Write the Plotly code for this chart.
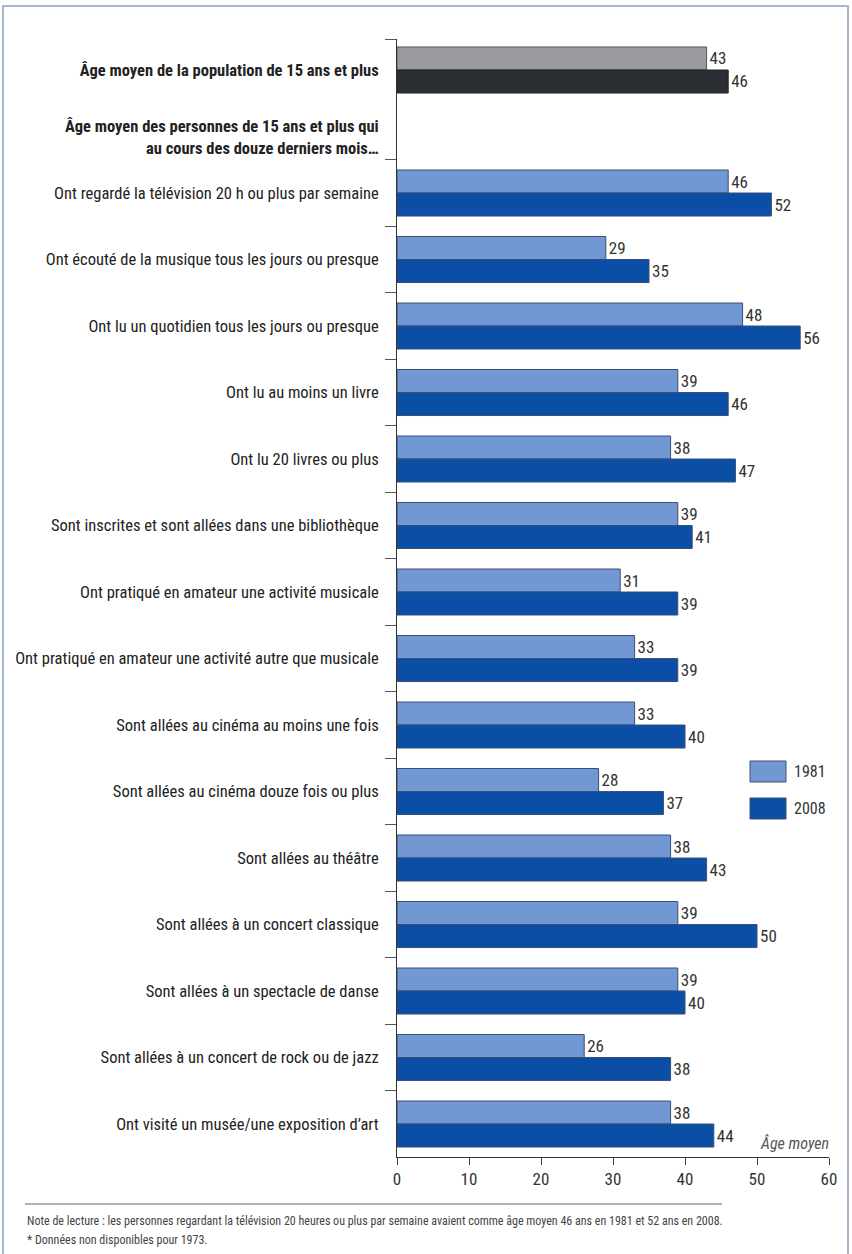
import plotly.graph_objects as go

# --- data -------------------------------------------------------------
categories = [
    "<b>Âge moyen de la population de 15 ans et plus</b>",
    "<b>Âge moyen des personnes de 15 ans et plus qui</b><br><b>au cours des douze derniers mois…</b>",
    "Ont regardé la télévision 20 h ou plus par semaine",
    "Ont écouté de la musique tous les jours ou presque",
    "Ont lu un quotidien tous les jours ou presque",
    "Ont lu au moins un livre",
    "Ont lu 20 livres ou plus",
    "Sont inscrites et sont allées dans une bibliothèque",
    "Ont pratiqué en amateur une activité musicale",
    "Ont pratiqué en amateur une activité autre que musicale",
    "Sont allées au cinéma au moins une fois",
    "Sont allées au cinéma douze fois ou plus",
    "Sont allées au théâtre",
    "Sont allées à un concert classique",
    "Sont allées à un spectacle de danse",
    "Sont allées à un concert de rock ou de jazz",
    "Ont visité un musée/une exposition d’art",
]
years = ["1981", "2008"]
values_1981 = [43, None, 46, 29, 48, 39, 38, 39, 31, 33, 33, 28, 38, 39, 39, 26, 38]
values_2008 = [46, None, 52, 35, 56, 46, 47, 41, 39, 39, 40, 37, 43, 50, 40, 38, 44]
x_ticks = [0, 10, 20, 30, 40, 50, 60]
axis_title = "Âge moyen"
note_lines = [
    "Note de lecture : les personnes regardant la télévision 20 heures ou plus par semaine "
    "avaient comme âge moyen 46 ans en 1981 et 52 ans en 2008.",
    "* Données non disponibles pour 1973.",
]

# --- layout helpers ---------------------------------------------------
# row positions on the value axis (first two rows are slightly tighter)
row_pos = [-1.85, -0.84] + list(range(len(categories) - 2))
y_top, y_bot = -2.316, 14.496
bar_w = 0.346

FONT = "Roboto Condensed, Roboto, Lato, sans-serif"
LIGHT, DARK = "#7198d2", "#0b4ea6"
GREY, BLACKISH = "#9b9b9f", "#2b2e35"
OUTLINE = "#3a4f78"

colors_1981 = [GREY] + [LIGHT] * (len(categories) - 1)
colors_2008 = [BLACKISH] + [DARK] * (len(categories) - 1)
line_1981 = ["#555555"] + [OUTLINE] * (len(categories) - 1)
line_2008 = ["#222222"] + [OUTLINE] * (len(categories) - 1)


def labels(vals):
    return ["" if v is None else str(v) for v in vals]


fig = go.Figure()
fig.add_trace(go.Bar(
    y=row_pos, x=values_1981, orientation="h", name=years[0],
    width=bar_w, offset=-bar_w,
    marker=dict(color=colors_1981, line=dict(color=line_1981, width=1)),
    text=labels(values_1981), textposition="outside", constraintext="none",
    textfont=dict(family=FONT, size=17, color="#333333"),
    cliponaxis=False, showlegend=False,
))
fig.add_trace(go.Bar(
    y=row_pos, x=values_2008, orientation="h", name=years[1],
    width=bar_w, offset=0,
    marker=dict(color=colors_2008, line=dict(color=line_2008, width=1)),
    text=labels(values_2008), textposition="outside", constraintext="none",
    textfont=dict(family=FONT, size=17, color="#333333"),
    cliponaxis=False, showlegend=False,
))

# group separators on the category axis
sep_ticks = [y_top] + [i + 0.5 for i in range(-1, len(categories) - 2)]

fig.update_yaxes(
    range=[y_bot, y_top], automargin=False,
    tickmode="array", tickvals=row_pos, ticktext=categories,
    ticks="", ticklabelstandoff=14,
    tickfont=dict(family=FONT, size=16.5, color="#222222"),
    showline=True, linecolor="#333333", linewidth=1,
    showgrid=False, zeroline=False,
    minor=dict(tickmode="array", tickvals=sep_ticks, ticks="outside",
               ticklen=11, tickcolor="#555555", tickwidth=1, showgrid=False),
)
fig.update_xaxes(
    range=[0, 60], automargin=False, tickmode="array", tickvals=x_ticks,
    ticks="outside", ticklen=7, tickcolor="#444444",
    tickfont=dict(family=FONT, size=17, color="#333333"),
    showline=True, linecolor="#333333", linewidth=1,
    showgrid=False, zeroline=False,
)

plot_left, plot_right, plot_top, plot_bottom = 397, 829, 39, 1157
W, H = 852, 1254
pw, ph = plot_right - plot_left, plot_bottom - plot_top


def px_x(x):
    return (x - plot_left) / pw


def px_y(y):
    return (plot_bottom - y) / ph


shapes = [
    # outer frame
    dict(type="rect", xref="paper", yref="paper",
         x0=px_x(3), x1=px_x(848), y0=px_y(1260), y1=px_y(6),
         line=dict(color="#a7b6d2", width=2), fillcolor="rgba(0,0,0,0)", layer="below"),
    # rule above the notes
    dict(type="line", xref="paper", yref="paper",
         x0=px_x(25), x1=px_x(722), y0=px_y(1204), y1=px_y(1204),
         line=dict(color="#666666", width=1)),
]
annotations = []

# legend boxes
for i, (name, col) in enumerate(zip(years, [LIGHT, DARK])):
    top = 761 + i * 37
    shapes.append(dict(type="rect", xref="paper", yref="paper",
                       x0=px_x(750), x1=px_x(786), y0=px_y(top + 21), y1=px_y(top),
                       fillcolor=col, line=dict(color=OUTLINE, width=1)))
    annotations.append(dict(xref="paper", yref="paper", x=px_x(792), y=px_y(top + 10.5),
                            text=name, showarrow=False, xanchor="left", yanchor="middle",
                            font=dict(family=FONT, size=16, color="#333333")))

annotations.append(dict(xref="paper", yref="paper", x=px_x(831), y=px_y(1143),
                        text="<i>" + axis_title + "</i>", showarrow=False,
                        xanchor="right", yanchor="middle",
                        font=dict(family=FONT, size=16, color="#555555")))
for line, ypx in zip(note_lines, [1221, 1240]):
    annotations.append(dict(xref="paper", yref="paper", x=px_x(25), y=px_y(ypx),
                            text=line, showarrow=False, xanchor="left", yanchor="middle",
                            font=dict(family=FONT, size=12, color="#444444")))

fig.update_layout(
    width=W, height=H,
    margin=dict(l=plot_left, r=W - plot_right, t=plot_top, b=H - plot_bottom),
    paper_bgcolor="white", plot_bgcolor="white",
    barmode="overlay", shapes=shapes, annotations=annotations,
    font=dict(family=FONT),
)

fig.write_html("out.html")
